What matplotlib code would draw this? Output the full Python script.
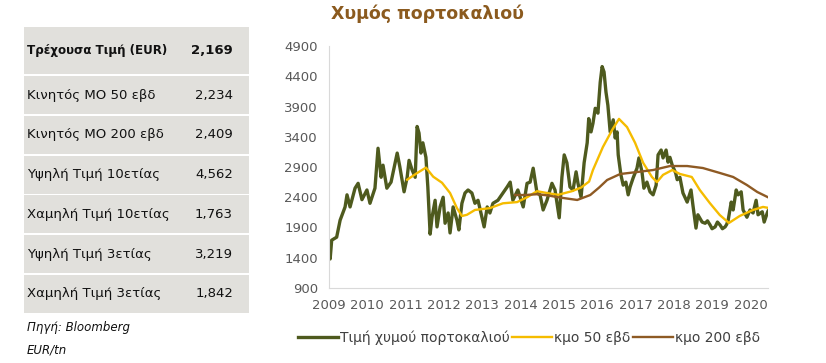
import matplotlib.pyplot as plt
from matplotlib.patches import Rectangle

plt.rcParams['font.family'] = ['DejaVu Sans']

# Summary table
table_labels = ["Τρέχουσα Τιμή (EUR)", "Κινητός ΜΟ 50 εβδ", "Κινητός ΜΟ 200 εβδ",
                "Υψηλή Τιμή 10ετίας", "Χαμηλή Τιμή 10ετίας", "Υψηλή Τιμή 3ετίας",
                "Χαμηλή Τιμή 3ετίας"]
table_values = ["2,169", "2,234", "2,409", "4,562", "1,763", "3,219", "1,842"]

# Orange juice price (EUR/tn)
price_years = [2009.00, 2009.03, 2009.07, 2009.20, 2009.29, 2009.42, 2009.47, 2009.55,
               2009.68, 2009.76, 2009.86, 2009.99, 2010.07, 2010.20, 2010.28, 2010.36,
               2010.41, 2010.51, 2010.62, 2010.67, 2010.78, 2010.85, 2010.96, 2011.04,
               2011.09, 2011.17, 2011.25, 2011.30, 2011.35, 2011.40, 2011.45, 2011.53,
               2011.58, 2011.64, 2011.69, 2011.77, 2011.82, 2011.90, 2011.98, 2012.03,
               2012.11, 2012.16, 2012.24, 2012.34, 2012.39, 2012.47, 2012.55, 2012.63,
               2012.73, 2012.81, 2012.89, 2012.99, 2013.05, 2013.13, 2013.20, 2013.28,
               2013.41, 2013.54, 2013.65, 2013.73, 2013.80, 2013.93, 2014.07, 2014.17,
               2014.25, 2014.33, 2014.43, 2014.51, 2014.59, 2014.69, 2014.82, 2014.90,
               2015.01, 2015.08, 2015.14, 2015.21, 2015.29, 2015.37, 2015.45, 2015.50,
               2015.58, 2015.66, 2015.74, 2015.78, 2015.84, 2015.89, 2015.95, 2016.02,
               2016.08, 2016.13, 2016.18, 2016.23, 2016.28, 2016.34, 2016.42, 2016.47,
               2016.52, 2016.55, 2016.62, 2016.68, 2016.75, 2016.81, 2016.86, 2016.94,
               2017.04, 2017.09, 2017.17, 2017.22, 2017.30, 2017.38, 2017.46, 2017.54,
               2017.59, 2017.67, 2017.72, 2017.80, 2017.85, 2017.90, 2017.96, 2018.05,
               2018.09, 2018.16, 2018.24, 2018.35, 2018.45, 2018.50, 2018.58, 2018.63,
               2018.74, 2018.82, 2018.88, 2018.95, 2019.00, 2019.08, 2019.14, 2019.21,
               2019.27, 2019.34, 2019.38, 2019.42, 2019.50, 2019.55, 2019.63, 2019.68,
               2019.76, 2019.81, 2019.91, 2019.99, 2020.07, 2020.15, 2020.20, 2020.31,
               2020.36, 2020.44, 2020.46]
price_vals = [1560, 1380, 1690, 1740, 2020, 2240, 2440, 2240,
              2550, 2630, 2360, 2520, 2300, 2550, 3210, 2730,
              2930, 2550, 2650, 2800, 3130, 2900, 2490, 2730,
              3010, 2850, 2730, 3570, 3460, 3130, 3300, 3060,
              2570, 1790, 2070, 2350, 1910, 2240, 2400, 1970,
              2140, 1810, 2240, 2020, 1860, 2300, 2470, 2520,
              2470, 2300, 2350, 2070, 1910, 2240, 2140, 2300,
              2350, 2470, 2570, 2650, 2350, 2520, 2240, 2630,
              2650, 2880, 2470, 2440, 2190, 2350, 2630, 2520,
              2060, 2730, 3100, 2970, 2570, 2520, 2820, 2630,
              2400, 2970, 3300, 3700, 3480, 3620, 3870, 3790,
              4300, 4560, 4470, 4140, 3920, 3480, 3680, 3380,
              3480, 3100, 2770, 2600, 2650, 2440, 2570, 2720,
              2880, 3050, 2820, 2550, 2650, 2490, 2440, 2600,
              3100, 3180, 3050, 3180, 2980, 3060, 2930, 2800,
              2690, 2730, 2470, 2320, 2520, 2270, 1890, 2110,
              1990, 1970, 2010, 1940, 1880, 1910, 1990, 1940,
              1880, 1910, 1950, 2020, 2320, 2190, 2520, 2440,
              2490, 2190, 2070, 2190, 2140, 2350, 2110, 2160,
              1990, 2140, 2170]

# 50-week moving average
ma50_years = [2011.04, 2011.30, 2011.53, 2011.72, 2011.95, 2012.16, 2012.34, 2012.47,
              2012.60, 2012.81, 2013.20, 2013.54, 2013.91, 2014.17, 2014.43, 2014.69,
              2014.98, 2015.34, 2015.58, 2015.79, 2015.89, 2016.15, 2016.39, 2016.57,
              2016.78, 2016.99, 2017.20, 2017.43, 2017.56, 2017.72, 2017.96, 2018.16,
              2018.47, 2018.68, 2018.94, 2019.20, 2019.44, 2019.72, 2020.07, 2020.33,
              2020.46]
ma50_vals = [2690, 2800, 2890, 2740, 2640, 2470, 2220, 2090,
             2110, 2190, 2220, 2300, 2320, 2400, 2500, 2470,
             2440, 2500, 2560, 2660, 2850, 3230, 3510, 3695,
             3560, 3300, 2970, 2735, 2650, 2770, 2850, 2785,
             2735, 2520, 2305, 2107, 1975, 2090, 2190, 2240,
             2225]

# 200-week moving average
ma200_years = [2013.86, 2014.12, 2014.43, 2014.72, 2014.98, 2015.20, 2015.48, 2015.82,
               2016.05, 2016.26, 2016.60, 2017.04, 2017.46, 2017.90, 2018.35, 2018.76,
               2019.21, 2019.55, 2019.91, 2020.18, 2020.46]
ma200_vals = [2437, 2437, 2450, 2430, 2400, 2380, 2355, 2437,
              2560, 2685, 2784, 2817, 2850, 2916, 2916, 2883,
              2800, 2735, 2602, 2487, 2400]

W, H = 826, 363
fig = plt.figure(figsize=(W / 100, H / 100), dpi=100)

# table drawn in pixel coordinates on a background axes
bg = fig.add_axes([0, 0, 1, 1])
bg.set_xlim(0, W)
bg.set_ylim(H, 0)
bg.axis('off')
gray = '#E1E0DC'
for i, (lab, val) in enumerate(zip(table_labels, table_values)):
    if i == 0:
        top, h = 27, 47
        weight, size = 'bold', 8.6
    else:
        top, h = 76 + (i - 1) * 39.8, 38
        weight, size = 'normal', 9.5
    bg.add_patch(Rectangle((24, top), 225, h, facecolor=gray, edgecolor='none'))
    bg.text(27, top + h / 2, lab, fontsize=size, fontweight=weight, color='#111111',
            ha='left', va='center')
    bg.text(233, top + h / 2, val, fontsize=9.5, fontweight=weight, color='#111111',
            ha='right', va='center')
bg.text(27, 328, "Πηγή: Bloomberg", fontsize=8.5, style='italic', color='#111111',
        ha='left', va='center')
bg.text(27, 350, "EUR/tn", fontsize=8.5, style='italic', color='#111111',
        ha='left', va='center')

# price chart
ax = fig.add_axes([329 / W, 1 - 288 / H, (768 - 329) / W, (288 - 46) / H])
ax.plot(price_years, price_vals, color='#4E5A1E', lw=2.4, label='Τιμή χυμού πορτοκαλιού')
ax.plot(ma50_years, ma50_vals, color='#F5BC00', lw=1.7, label='κμο 50 εβδ')
ax.plot(ma200_years, ma200_vals, color='#8E5A24', lw=1.7, label='κμο 200 εβδ')

ax.set_xlim(2009, 2020.46)
ax.set_ylim(900, 4900)
ax.set_yticks(range(900, 4901, 500))
ax.set_xticks(range(2009, 2021))
ax.tick_params(length=0, labelsize=9.5, labelcolor='#595959', pad=8)
for s in ['top', 'right']:
    ax.spines[s].set_visible(False)
for s in ['left', 'bottom']:
    ax.spines[s].set_color('#D9D9D9')
ax.patch.set_alpha(0)

fig.text(427 / W, 1 - 14 / H, "Χυμός πορτοκαλιού", fontsize=12.5, fontweight='bold',
         color='#8B5A1E', ha='center', va='center')

fig.legend(loc='center', bbox_to_anchor=(529 / W, 1 - 338 / H), ncol=3, frameon=False,
           fontsize=10, handlelength=2.9, handletextpad=0.15, columnspacing=0.15,
           labelcolor='#404040')

fig.savefig('out.png', dpi=100)
